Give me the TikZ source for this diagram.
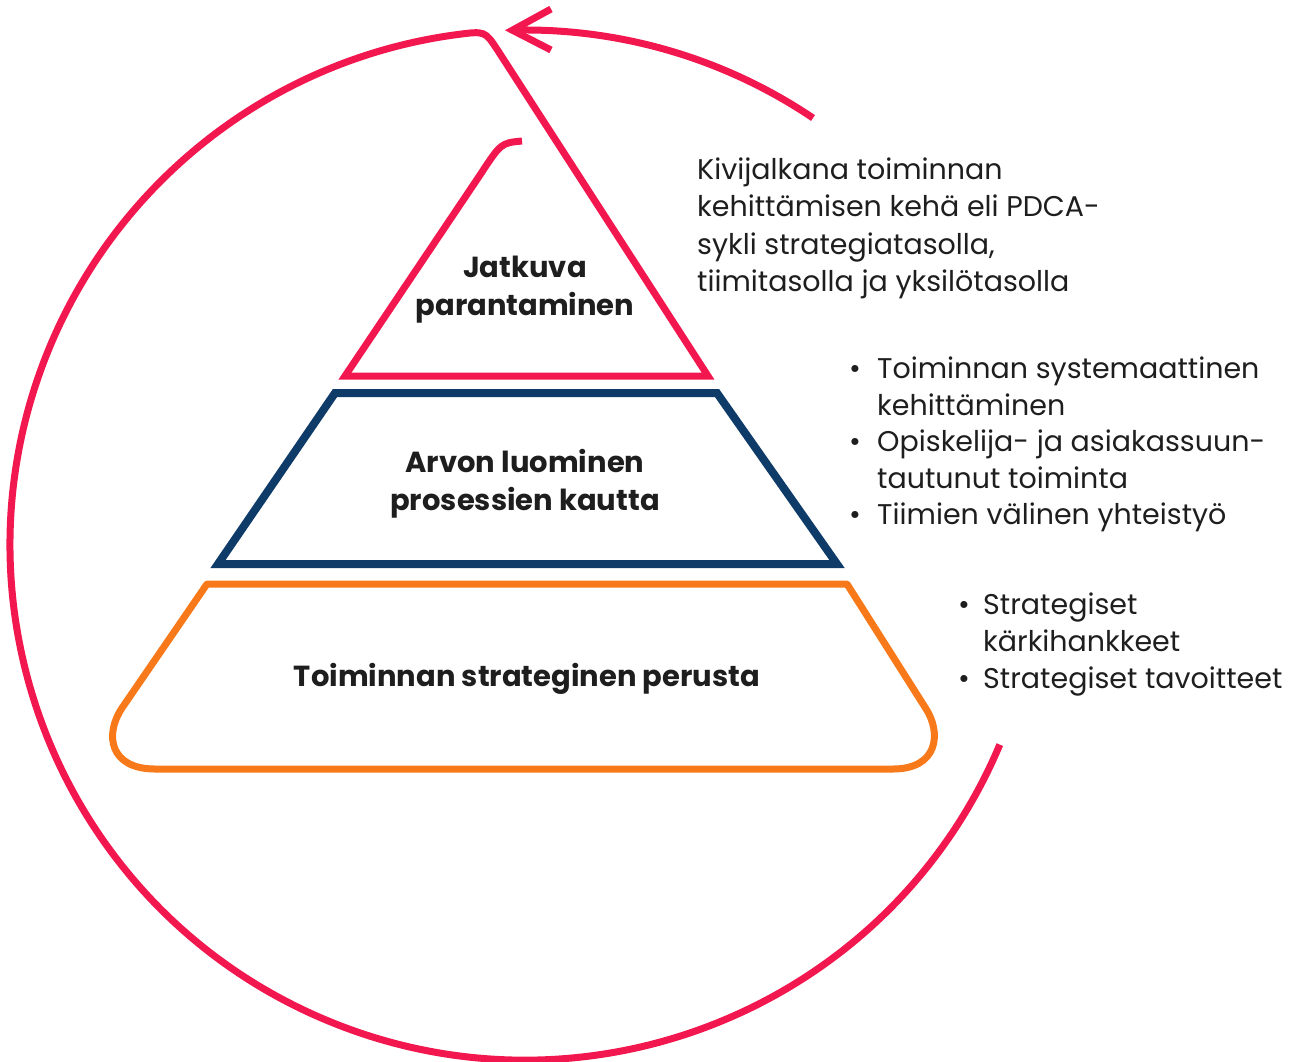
\documentclass[tikz,border=0pt]{standalone}
\usepackage{fontspec}
\setmainfont{Poppins}
\definecolor{cred}{HTML}{F2184F}
\definecolor{cblue}{HTML}{0F3B68}
\definecolor{corange}{HTML}{F8791A}
\definecolor{ctext}{HTML}{1E1E1E}
\begin{document}
\begin{tikzpicture}[x=1pt,y=-1pt,
  redline/.style={draw=cred,line width=7pt},
  blueline/.style={draw=cblue,line width=8pt,line join=miter},
  orangeline/.style={draw=corange,line width=7pt},
  lvltext/.style={font=\fontsize{29}{38}\selectfont\bfseries,text=ctext,align=center,inner sep=0pt},
  sidetext/.style={font=\fontsize{28.5}{37}\selectfont,text=ctext,anchor=base west,inner sep=0pt},
  bul/.style={font=\fontsize{28.5}{37}\selectfont,text=ctext,anchor=base,inner sep=0pt}]
\useasboundingbox (0,0) rectangle (1299,1061);
% circle with triangle (one red stroke)
\coordinate (cstart) at (999.8,744.6);
\coordinate (tri1) at (708,376);
\coordinate (tri2) at (345,376);
\coordinate (tri3) at (480,175);
\coordinate (triend) at (522,141);
\draw[redline,line join=miter] (cstart) arc[start angle=22.8,end angle=262.5,x radius=515,y radius=515]
  .. controls (485,31) .. (497.5,50) -- (tri1) -- (tri2) -- (tri3) .. controls (501,143) .. (triend);
% arrow arc
\coordinate (astart) at (813,118);
\coordinate (tip) at (512.4,30.2);
\coordinate (armU) at (551,9);
\coordinate (armL) at (551,50);
\draw[redline] (astart) arc[start angle=304,end angle=268.6,x radius=515,y radius=515];
\draw[redline,line join=miter] (armU) -- (tip) -- (armL);
% blue trapezoid
\coordinate (b1) at (335,393);
\coordinate (b2) at (717,393);
\coordinate (b3) at (837,564);
\coordinate (b4) at (218,564);
\draw[blueline] (b1) -- (b2) -- (b3) -- (b4) -- cycle;
% orange base
\coordinate (o1) at (207,584);
\coordinate (o2) at (847,584);
\coordinate (o3) at (925.5,708);
\coordinate (o4) at (893,769);
\coordinate (o5) at (155,769);
\coordinate (o6) at (122,708);
\draw[orangeline,line join=round] (o1) -- (o2) -- (o3) .. controls (942,733) and (938,769) .. (o4)
  -- (o5) .. controls (110,769) and (104,735) .. (o6) -- cycle;
% level texts
\node[lvltext] (t1) at (525,290) {Jatkuva\\parantaminen};
\node[lvltext] (t2) at (525,484) {Arvon luominen\\prosessien kautta};
\node[lvltext] (t3) at (527,679) {Toiminnan strateginen perusta};
% right texts
\node[sidetext] (k1) at (697,179) {Kivijalkana toiminnan};
\node[sidetext] (k2) at (697,216.5) {kehittämisen kehä eli PDCA-};
\node[sidetext] (k3) at (697,254) {sykli strategiatasolla,};
\node[sidetext] (k4) at (697,291.5) {tiimitasolla ja yksilötasolla};
\node[bul] (d1) at (855,378) {•};
\node[sidetext] (s1) at (877,378) {Toiminnan systemaattinen};
\node[sidetext] (s2) at (877,415) {kehittäminen};
\node[bul] (d2) at (855,451) {•};
\node[sidetext] (s3) at (877,451) {Opiskelija- ja asiakassuun-};
\node[sidetext] (s4) at (877,488) {tautunut toiminta};
\node[bul] (d3) at (855,524) {•};
\node[sidetext] (s5) at (877,524) {Tiimien välinen yhteistyö};
\node[bul] (d4) at (964,614) {•};
\node[sidetext] (r1) at (983,614) {Strategiset};
\node[sidetext] (r2) at (983,651) {kärkihankkeet};
\node[bul] (d5) at (964,688) {•};
\node[sidetext] (r3) at (983,688) {Strategiset tavoitteet};
\end{tikzpicture}
\end{document}
